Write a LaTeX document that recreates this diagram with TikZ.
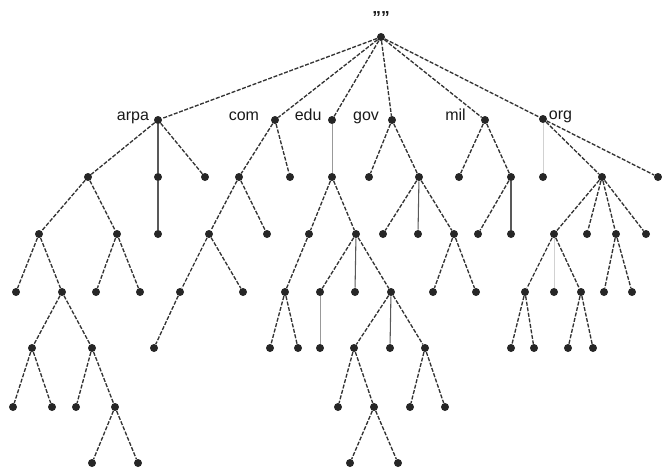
\documentclass[tikz,border=0pt]{standalone}
\usepackage{fontspec}
\setmainfont{Liberation Sans}
\usetikzlibrary{positioning}

\begin{document}
\begin{tikzpicture}[x=0.75pt, y=-0.75pt,
dom/.style={circle, fill=black!85, inner sep=0pt, minimum size=6pt},
tld/.style={inner sep=0pt, text=black!90, font=\fontsize{12}{14}\selectfont},
link/.style={draw=black!80, line width=1pt, dash pattern=on 3pt off 1.2pt},
solidlink/.style={draw=black!65, line width=0.8pt},
greylink/.style={draw=black!40, line width=0.7pt},
palelink/.style={draw=black!18, line width=0.7pt},]

\useasboundingbox (0,0) rectangle (662,472);

\node[dom] (root) at (381,37) {};
\node[tld] (root_lbl) [above=7pt of root] {\bfseries\fontsize{13}{15}\selectfont ""};

\node[dom] (arpa) at (158,120) {};
\node[dom] (com)  at (275,120) {};
\node[dom] (edu)  at (332,120) {};
\node[dom] (gov)  at (392,120) {};
\node[dom] (mil)  at (485,120) {};
\node[dom] (org)  at (543,119) {};
\node[tld] (arpa_lbl) [left=3.4pt of arpa, anchor=base east] {arpa};
\node[tld] (com_lbl)  [left=8.6pt of com, anchor=base east]  {com};
\node[tld] (edu_lbl)  [left=4.5pt of edu, anchor=base east]  {edu};
\node[tld] (gov_lbl)  [left=6.4pt of gov, anchor=base east]  {gov};
\node[tld] (mil_lbl)  [left=11pt of mil, anchor=base east]   {mil};
\node[tld] (org_lbl)  [right=1pt of org, anchor=base west]   {org};

\draw[link] (root) -- (arpa);
\draw[link] (root) -- (com);
\draw[link] (root) -- (edu);
\draw[link] (root) -- (gov);
\draw[link] (root) -- (mil);
\draw[link] (root) -- (org);

\node[dom] (arpa_a) at (88,177) {};
\node[dom] (arpa_b) at (158,177) {};
\node[dom] (arpa_c) at (205,177) {};
\node[dom] (arpa_aa) at (39,234) {};
\node[dom] (arpa_ab) at (117,234) {};
\node[dom] (arpa_ba) at (158,234) {};
\node[dom] (arpa_aaa) at (16,292) {};
\node[dom] (arpa_aab) at (62,292) {};
\node[dom] (arpa_aba) at (96,292) {};
\node[dom] (arpa_abb) at (140,292) {};
\node[dom] (arpa_aaba) at (32,348) {};
\node[dom] (arpa_aabb) at (92,348) {};
\node[dom] (arpa_aabaa) at (13,407) {};
\node[dom] (arpa_aabab) at (52,407) {};
\node[dom] (arpa_aabba) at (76,407) {};
\node[dom] (arpa_aabbb) at (115,407) {};
\node[dom] (arpa_aabbba) at (92,463) {};
\node[dom] (arpa_aabbbb) at (138,463) {};

\draw[link] (arpa) -- (arpa_a);
\draw[solidlink] (arpa) -- (arpa_b);
\draw[link] (arpa) -- (arpa_c);
\draw[link] (arpa_a) -- (arpa_aa);
\draw[link] (arpa_a) -- (arpa_ab);
\draw[solidlink] (arpa_b) -- (arpa_ba);
\draw[link] (arpa_aa) -- (arpa_aaa);
\draw[link] (arpa_aa) -- (arpa_aab);
\draw[link] (arpa_ab) -- (arpa_aba);
\draw[link] (arpa_ab) -- (arpa_abb);
\draw[link] (arpa_aab) -- (arpa_aaba);
\draw[link] (arpa_aab) -- (arpa_aabb);
\draw[link] (arpa_aaba) -- (arpa_aabaa);
\draw[link] (arpa_aaba) -- (arpa_aabab);
\draw[link] (arpa_aabb) -- (arpa_aabba);
\draw[link] (arpa_aabb) -- (arpa_aabbb);
\draw[link] (arpa_aabbb) -- (arpa_aabbba);
\draw[link] (arpa_aabbb) -- (arpa_aabbbb);

\node[dom] (com_a) at (239,177) {};
\node[dom] (com_b) at (290,177) {};
\node[dom] (com_aa) at (209,234) {};
\node[dom] (com_ab) at (267,234) {};
\node[dom] (com_aaa) at (180,292) {};
\node[dom] (com_aab) at (243,292) {};
\node[dom] (com_aaaa) at (154,348) {};

\draw[link] (com) -- (com_a);
\draw[link] (com) -- (com_b);
\draw[link] (com_a) -- (com_aa);
\draw[link] (com_a) -- (com_ab);
\draw[link] (com_aa) -- (com_aaa);
\draw[link] (com_aa) -- (com_aab);
\draw[link] (com_aaa) -- (com_aaaa);

\node[dom] (edu_a) at (332,177) {};
\node[dom] (edu_aa) at (309,234) {};
\node[dom] (edu_ab) at (356,234) {};
\node[dom] (edu_aaa) at (285,292) {};
\node[dom] (edu_aba) at (320,292) {};
\node[dom] (edu_abb) at (355,292) {};
\node[dom] (edu_abc) at (391,292) {};
\node[dom] (edu_aaaa) at (270,348) {};
\node[dom] (edu_aaab) at (298,348) {};
\node[dom] (edu_abaa) at (320,348) {};
\node[dom] (edu_abca) at (354,348) {};
\node[dom] (edu_abcb) at (390,348) {};
\node[dom] (edu_abcc) at (425,348) {};
\node[dom] (edu_abcaa) at (338,407) {};
\node[dom] (edu_abcab) at (374,407) {};
\node[dom] (edu_abcca) at (410,407) {};
\node[dom] (edu_abccb) at (445,407) {};
\node[dom] (edu_abcaba) at (350,463) {};
\node[dom] (edu_abcabb) at (398,463) {};

\draw[greylink] (edu) -- (edu_a);
\draw[link] (edu_a) -- (edu_aa);
\draw[link] (edu_a) -- (edu_ab);
\draw[link] (edu_aa) -- (edu_aaa);
\draw[link] (edu_ab) -- (edu_aba);
\draw[solidlink] (edu_ab) -- (edu_abb);
\draw[link] (edu_ab) -- (edu_abc);
\draw[link] (edu_aaa) -- (edu_aaaa);
\draw[link] (edu_aaa) -- (edu_aaab);
\draw[greylink] (edu_aba) -- (edu_abaa);
\draw[link] (edu_abc) -- (edu_abca);
\draw[solidlink] (edu_abc) -- (edu_abcb);
\draw[link] (edu_abc) -- (edu_abcc);
\draw[link] (edu_abca) -- (edu_abcaa);
\draw[link] (edu_abca) -- (edu_abcab);
\draw[link] (edu_abcc) -- (edu_abcca);
\draw[link] (edu_abcc) -- (edu_abccb);
\draw[link] (edu_abcab) -- (edu_abcaba);
\draw[link] (edu_abcab) -- (edu_abcabb);

\node[dom] (gov_a) at (369,177) {};
\node[dom] (gov_b) at (419,177) {};
\node[dom] (gov_ba) at (383,234) {};
\node[dom] (gov_bb) at (418,234) {};
\node[dom] (gov_bc) at (454,234) {};
\node[dom] (gov_bca) at (433,292) {};
\node[dom] (gov_bcb) at (476,292) {};

\draw[link] (gov) -- (gov_a);
\draw[link] (gov) -- (gov_b);
\draw[link] (gov_b) -- (gov_ba);
\draw[solidlink] (gov_b) -- (gov_bb);
\draw[link] (gov_b) -- (gov_bc);
\draw[link] (gov_bc) -- (gov_bca);
\draw[link] (gov_bc) -- (gov_bcb);

\node[dom] (mil_a) at (459,177) {};
\node[dom] (mil_b) at (511,177) {};
\node[dom] (mil_ba) at (478,234) {};
\node[dom] (mil_bb) at (511,234) {};

\draw[link] (mil) -- (mil_a);
\draw[link] (mil) -- (mil_b);
\draw[link] (mil_b) -- (mil_ba);
\draw[solidlink] (mil_b) -- (mil_bb);

\node[dom] (org_a) at (543,177) {};
\node[dom] (org_b) at (602,177) {};
\node[dom] (org_c) at (658,177) {};
\node[dom] (org_ba) at (554,234) {};
\node[dom] (org_bb) at (587,234) {};
\node[dom] (org_bc) at (616,234) {};
\node[dom] (org_bd) at (646,234) {};
\node[dom] (org_baa) at (525,292) {};
\node[dom] (org_bab) at (554,292) {};
\node[dom] (org_bac) at (581,292) {};
\node[dom] (org_bca) at (604,292) {};
\node[dom] (org_bcb) at (632,292) {};
\node[dom] (org_baaa) at (511,348) {};
\node[dom] (org_baab) at (534,348) {};
\node[dom] (org_baca) at (568,348) {};
\node[dom] (org_bacb) at (593,348) {};

\draw[palelink] (org) -- (org_a);
\draw[link] (org) -- (org_b);
\draw[link] (org) -- (org_c);
\draw[link] (org_b) -- (org_ba);
\draw[link] (org_b) -- (org_bb);
\draw[link] (org_b) -- (org_bc);
\draw[link] (org_b) -- (org_bd);
\draw[link] (org_ba) -- (org_baa);
\draw[palelink] (org_ba) -- (org_bab);
\draw[link] (org_ba) -- (org_bac);
\draw[link] (org_bc) -- (org_bca);
\draw[link] (org_bc) -- (org_bcb);
\draw[link] (org_baa) -- (org_baaa);
\draw[link] (org_baa) -- (org_baab);
\draw[link] (org_bac) -- (org_baca);
\draw[link] (org_bac) -- (org_bacb);

\end{tikzpicture}
\end{document}
